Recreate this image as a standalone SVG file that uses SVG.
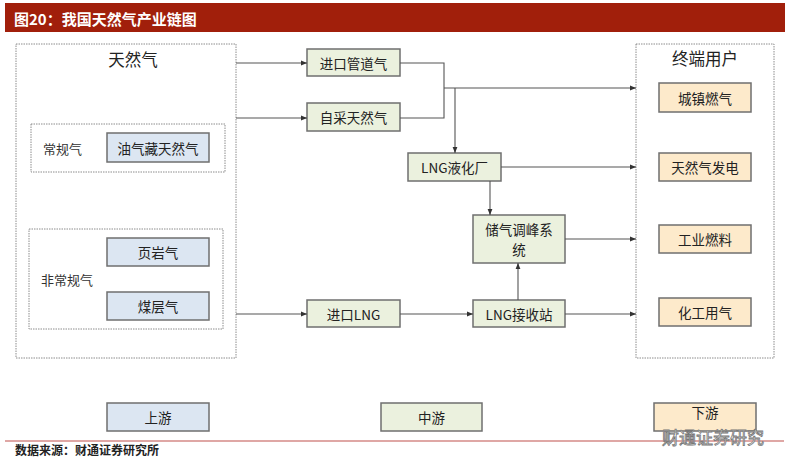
<svg xmlns="http://www.w3.org/2000/svg" width="799" height="466" viewBox="0 0 799 466">
<style>
text{font-family:"Noto Sans CJK SC","Liberation Sans",sans-serif;fill:#222;}
.lbl{font-size:13.5px;text-anchor:middle;dominant-baseline:central;}
.big{font-size:16.5px;text-anchor:middle;dominant-baseline:central;}
.side{font-size:13px;dominant-baseline:central;fill:#333;}
.grp{fill:#fff;stroke:#8c8c8c;stroke-width:1;stroke-dasharray:1.5 1;}
.blue{fill:#dce6f2;stroke:#6f6f6f;stroke-width:1.5;}
.green{fill:#ebf1de;stroke:#6f6f6f;stroke-width:1.5;}
.orange{fill:#fdeacb;stroke:#6f6f6f;stroke-width:1.5;}
.conn{fill:none;stroke:#555;stroke-width:1.1;}
</style>
<defs>
<marker id="ah" viewBox="0 0 10 10" refX="10" refY="5" markerWidth="6" markerHeight="6" orient="auto" markerUnits="userSpaceOnUse">
<path d="M0,1 L10,5 L0,9 z" fill="#333"/>
</marker>
</defs>
<rect width="799" height="466" fill="#fff"/>
<g id="title">
<rect x="5" y="3" width="780" height="29" fill="#a11f0b"/>
<text x="14" y="18" style="font-size:15px;font-weight:bold;fill:#fff;dominant-baseline:central;">图20：我国天然气产业链图</text>
</g>
<g id="upstream-group">
<rect class="grp" x="16" y="44" width="220" height="314"/>
<text class="big" x="133" y="59">天然气</text>
</g>
<g id="conventional-group">
<rect class="grp" x="31" y="124" width="194" height="48"/>
<text class="side" x="43" y="148">常规气</text>
</g>
<g id="unconventional-group">
<rect class="grp" x="29" y="229" width="194" height="100"/>
<text class="side" x="41" y="279">非常规气</text>
</g>
<g id="n-oil"><rect class="blue" x="107" y="133" width="102" height="29"/><text class="lbl" x="158" y="147.5">油气藏天然气</text></g>
<g id="n-shale"><rect class="blue" x="107" y="238" width="102" height="28"/><text class="lbl" x="158" y="252">页岩气</text></g>
<g id="n-cbm"><rect class="blue" x="107" y="292" width="102" height="28"/><text class="lbl" x="158" y="306">煤层气</text></g>
<g id="downstream-group">
<rect class="grp" x="636" y="44" width="138" height="314"/>
<text class="big" x="705" y="58">终端用户</text>
</g>
<g id="n-pipe"><rect class="green" x="307" y="49" width="93" height="27"/><text class="lbl" x="353.5" y="62.5">进口管道气</text></g>
<g id="n-self"><rect class="green" x="307" y="103" width="93" height="28"/><text class="lbl" x="353.5" y="117">自采天然气</text></g>
<g id="n-lngplant"><rect class="green" x="408" y="153" width="93" height="28"/><text class="lbl" x="454.5" y="167">LNG液化厂</text></g>
<g id="n-storage"><rect class="green" x="473" y="215" width="92" height="48"/><text class="lbl" x="519" y="229">储气调峰系</text><text class="lbl" x="519" y="249">统</text></g>
<g id="n-implng"><rect class="green" x="307" y="300" width="93" height="27"/><text class="lbl" x="353.5" y="313.5">进口LNG</text></g>
<g id="n-terminal"><rect class="green" x="473" y="300" width="92" height="27"/><text class="lbl" x="519" y="313.5">LNG接收站</text></g>
<g id="n-city"><rect class="orange" x="659" y="83" width="92" height="29"/><text class="lbl" x="705" y="97.5">城镇燃气</text></g>
<g id="n-power"><rect class="orange" x="659" y="153" width="92" height="28"/><text class="lbl" x="705" y="167">天然气发电</text></g>
<g id="n-ind"><rect class="orange" x="659" y="225" width="92" height="28"/><text class="lbl" x="705" y="239">工业燃料</text></g>
<g id="n-chem"><rect class="orange" x="659" y="298" width="92" height="28"/><text class="lbl" x="705" y="312">化工用气</text></g>
<g id="connectors">
<path class="conn" d="M236,63 H307" marker-end="url(#ah)"/>
<path class="conn" d="M236,118 H307" marker-end="url(#ah)"/>
<path class="conn" d="M400,63 H444 V118 H400"/>
<path class="conn" d="M444,88 H636" marker-end="url(#ah)"/>
<path class="conn" d="M455,88 V153" marker-end="url(#ah)"/>
<path class="conn" d="M501,167 H636" marker-end="url(#ah)"/>
<path class="conn" d="M490,181 V215" marker-end="url(#ah)"/>
<path class="conn" d="M565,239 H636" marker-end="url(#ah)"/>
<path class="conn" d="M236,314 H307" marker-end="url(#ah)"/>
<path class="conn" d="M400,314 H473" marker-end="url(#ah)"/>
<path class="conn" d="M518,300 V263" marker-end="url(#ah)"/>
<path class="conn" d="M565,314 H636" marker-end="url(#ah)"/>
</g>
<g id="legend-up"><rect class="blue" x="107" y="403" width="102" height="28"/><text class="lbl" x="158" y="417">上游</text></g>
<g id="legend-mid"><rect class="green" x="381" y="403" width="101" height="28"/><text class="lbl" x="431.5" y="417">中游</text></g>
<g id="legend-down"><rect class="orange" x="654" y="403" width="102" height="28"/><text class="lbl" x="705" y="411.5">下游</text></g>
<g id="footer">
<line x1="5" y1="441" x2="784" y2="441" stroke="#c0504d" stroke-width="1.2"/>
<text x="15" y="449" style="font-size:12px;font-weight:bold;dominant-baseline:central;">数据来源：财通证券研究所</text>
<text x="662" y="436" style="font-size:17px;fill:#fff;stroke:#777;stroke-width:0.8;dominant-baseline:central;">财通证券研究</text>
</g>
</svg>
